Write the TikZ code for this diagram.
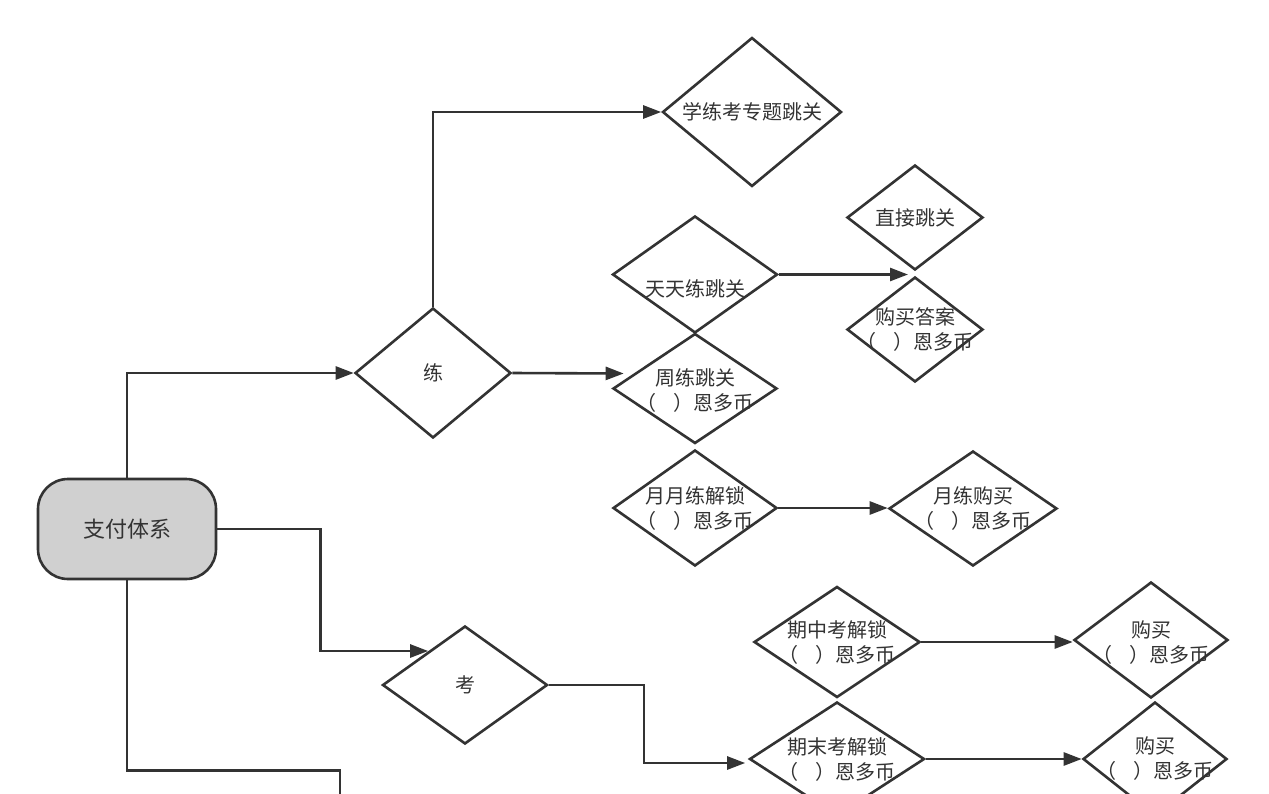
\documentclass[tikz,border=0pt]{standalone}
\usepackage{fontspec}
\newfontfamily\cjk{Noto Sans CJK SC}
\usetikzlibrary{shapes.geometric,arrows.meta}
\definecolor{lc}{HTML}{333333}
\definecolor{gf}{HTML}{D0D0D0}
\newcommand{\coin}{（\hspace{0.9em}）恩多币}
\begin{document}
\begin{tikzpicture}[x=1pt,y=-1pt,
  dia/.style={diamond, draw=lc, line width=2.6pt, inner sep=0pt},
  txt/.style={font=\cjk\fontsize{20}{25}\selectfont, text=lc, align=center, inner sep=0pt},
  conn/.style={draw=lc, line width=2.6pt},
  arr/.style={conn, -{Triangle[length=18pt,width=13pt]}}
]
\useasboundingbox (0,0) rectangle (1269,793);

% start node
\node[draw=lc, fill=gf, line width=2.6pt, rounded corners=30pt,
      minimum width=178pt, minimum height=100pt, txt, font=\cjk\fontsize{22}{26}\selectfont] (pay) at (127,529) {支付体系};

% diamonds
\node[dia, minimum width=156pt, minimum height=130pt, label={[txt]center:练}] (lian) at (433,373) {};
\node[dia, minimum width=179pt, minimum height=149pt, label={[txt]center:学练考专题跳关}] (xl) at (752,112) {};
\node[dia, minimum width=165pt, minimum height=117pt, label={[txt,yshift=-14pt]center:天天练跳关}] (tt) at (695,274.5) {};
\node[dia, minimum width=164pt, minimum height=110pt, label={[txt,yshift=-2pt]center:{周练跳关\\\coin}}] (zl) at (695,388.5) {};
\node[dia, minimum width=136pt, minimum height=105pt, label={[txt]center:直接跳关}] (zj) at (915,217.5) {};
\node[dia, minimum width=136pt, minimum height=105pt, label={[txt]center:{购买答案\\\coin}}] (gd) at (915,329.5) {};
\node[dia, minimum width=164pt, minimum height=116pt, label={[txt]center:{月月练解锁\\\coin}}] (yy) at (695,508) {};
\node[dia, minimum width=168pt, minimum height=115pt, label={[txt]center:{月练购买\\\coin}}] (yg) at (973,508.5) {};
\node[dia, minimum width=165pt, minimum height=118pt, label={[txt]center:考}] (kao) at (465,685) {};
\node[dia, minimum width=166pt, minimum height=111pt, label={[txt]center:{期中考解锁\\\coin}}] (qz) at (837,642) {};
\node[dia, minimum width=154pt, minimum height=116pt, label={[txt,yshift=-3pt]center:{购买\\\coin}}] (gm1) at (1151,640) {};
\node[dia, minimum width=175pt, minimum height=114pt, label={[txt]center:{期末考解锁\\\coin}}] (qmo) at (837,759) {};
\node[dia, minimum width=144pt, minimum height=114pt, label={[txt]center:{购买\\\coin}}] (gm2) at (1155,759) {};

% helper coordinates
\coordinate (zlin) at ([shift={(12,-15)}]zl.west);
\coordinate (ttout) at ([shift={(-7,0)}]tt.east -| zj.south);
\coordinate (kaoin) at ([shift={(47,-34)}]kao.west);
\coordinate (qmin) at ([shift={(-3,4)}]qmo.west);
\coordinate (cut) at (340,800);

% connectors
\draw[arr] (pay.north) |- (lian.west);
\draw[arr] (lian.north) |- (xl.west);
\draw[arr] (lian.east) -- (zlin);
\draw[arr] (tt.east) -- (ttout);
\draw[arr] (yy.east) -- (yy.east -| yg.west);
\draw[arr] (pay.east) -- ++(103,0) |- (kaoin);
\draw[arr] (kao.east) -- ++(95,0) |- (qmin);
\draw[arr] (qz.east) -- (qz.east -| gm1.west);
\draw[arr] (qmo.east) -- (qmo.east -| gm2.west);
\draw[conn] (pay.south) -- ++(0,190) -| (cut);
\end{tikzpicture}
\end{document}
